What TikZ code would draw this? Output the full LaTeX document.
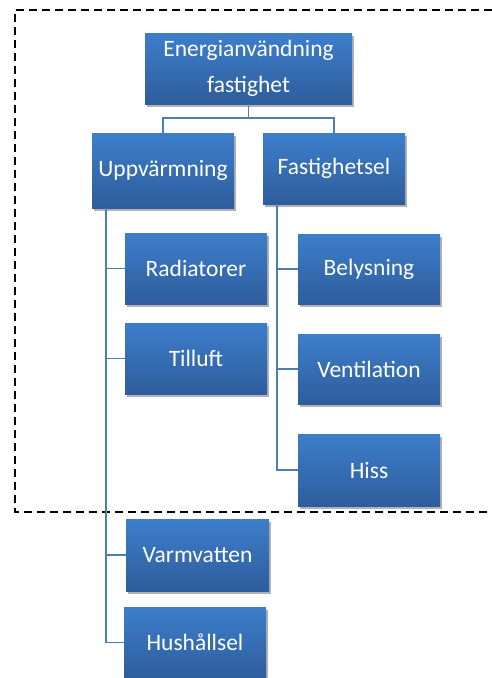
\documentclass[tikz,border=0pt]{standalone}
\usepackage{fontspec}
\setmainfont{Carlito}
\usetikzlibrary{shadows,calc}
\definecolor{boxtop}{RGB}{61,126,203}
\definecolor{boxbot}{RGB}{46,93,156}
\definecolor{linkc}{RGB}{79,125,182}
\tikzset{
  box/.style={rectangle, draw=none, top color=boxtop, bottom color=boxbot,
    minimum width=142pt, minimum height=71pt, inner sep=0pt, align=center,
    text=white, font=\fontsize{23.5}{36}\selectfont,
    drop shadow={opacity=0.3, shadow xshift=2pt, shadow yshift=-3pt, fill=black}},
  link/.style={draw=linkc, line width=1.8pt},
  frame/.style={draw=black, line width=1.5pt, dash pattern=on 8pt off 5pt}
}
\begin{document}
\begin{tikzpicture}[x=1pt,y=-1pt]
\useasboundingbox (0,0) rectangle (492,678);
\fill[white] (0,0) rectangle (492,678);
\draw[frame] (492,10) -- (15,10) -- (15,512) -- (492,512);

\node[box, minimum width=207pt] (top) at (248.5,68.5) {Energianvändning\\fastighet};
\node[box, minimum height=75pt] (upp) at (163,170.5) {Uppvärmning};
\node[box] (fast) at (334,168.5) {Fastighetsel};
\node[box] (rad) at (196,268.5) {Radiatorer};
\node[box] (till) at (196,358.5) {Tilluft};
\node[box, minimum height=70pt] (bel) at (369,269) {Belysning};
\node[box, minimum height=70pt] (vent) at (369,369) {Ventilation};
\node[box, minimum height=72pt] (hiss) at (369,470) {Hiss};
\node[box, minimum width=143pt, minimum height=72pt] (varm) at (197.5,555) {Varmvatten};
\node[box] (hush) at (195,642.5) {Hushållsel};

\draw[link] (top.south) -- ++(0,14) coordinate (tj);
\draw[link] (tj) -| (upp.north);
\draw[link] (tj) -| (fast.north);

\coordinate (lt) at ([xshift=14pt]upp.south west);
\draw[link] (lt) |- (hush.west);
\draw[link] (rad.west) -- (rad.west -| lt);
\draw[link] (till.west) -- (till.west -| lt);
\draw[link] (varm.west) -- (varm.west -| lt);

\coordinate (rt) at ([xshift=14pt]fast.south west);
\draw[link] (rt) |- (hiss.west);
\draw[link] (bel.west) -- (bel.west -| rt);
\draw[link] (vent.west) -- (vent.west -| rt);
\end{tikzpicture}
\end{document}
